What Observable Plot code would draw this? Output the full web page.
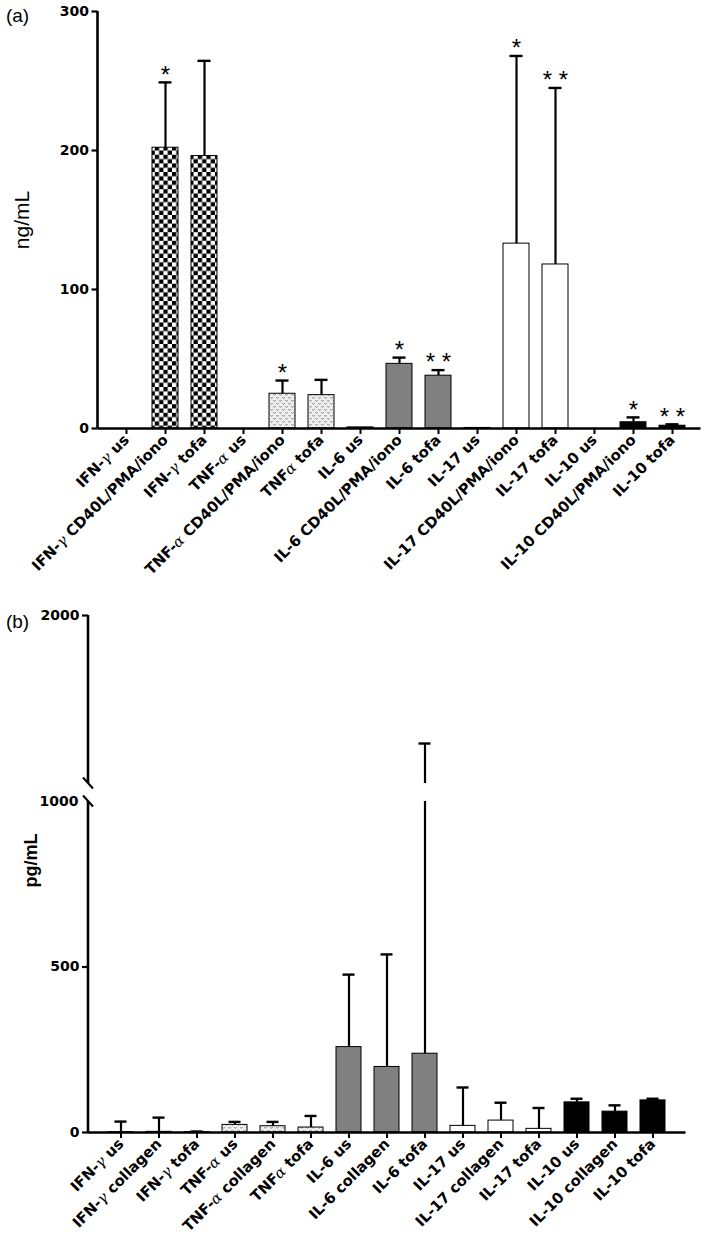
<!DOCTYPE html>
<html>
<head>
<meta charset="utf-8">
<script src="https://cdn.jsdelivr.net/npm/d3@7"></script>
<script src="https://cdn.jsdelivr.net/npm/@observablehq/plot@0.6"></script>
<style>
  body { margin: 0; background: #fff; }
  svg { display: block; overflow: visible; }
</style>
</head>
<body>
<svg width="0" height="0" style="position:absolute">
  <defs>
    <pattern id="checker" patternUnits="userSpaceOnUse" width="8.6" height="8.6">
      <rect width="8.6" height="8.6" fill="#fff"/>
      <rect width="4.3" height="4.3" fill="#000"/>
      <rect x="4.3" y="4.3" width="4.3" height="4.3" fill="#000"/>
    </pattern>
    <pattern id="wavy" patternUnits="userSpaceOnUse" width="6" height="6">
      <rect width="6" height="6" fill="#eeeeee"/>
      <path d="M0.4,1.2 Q1.5,3.6 2.6,1.2 M3.4,4.2 Q4.5,6.6 5.6,4.2" fill="none" stroke="#6e6e6e" stroke-width="0.9"/>
    </pattern>
  </defs>
</svg>
<div id="chart"></div>
<script>
// ---------- Panel (a) data ----------
const topLabels = ["IFN-γ us", "IFN-γ CD40L/PMA/iono", "IFN-γ tofa", "TNF-α us", "TNF-α CD40L/PMA/iono", "TNFα tofa",
  "IL-6 us", "IL-6 CD40L/PMA/iono", "IL-6 tofa", "IL-17 us", "IL-17 CD40L/PMA/iono", "IL-17 tofa",
  "IL-10 us", "IL-10 CD40L/PMA/iono", "IL-10 tofa"];
const topGroups = ["IFN", "IFN", "IFN", "TNF", "TNF", "TNF", "IL6", "IL6", "IL6", "IL17", "IL17", "IL17", "IL10", "IL10", "IL10"];
const topMeans = [0, 202, 196, 0, 25, 24, 0.8, 46.5, 38, 0.4, 133, 118, 0, 4.5, 2];
const topErrors = [0, 47, 68.5, 0, 9.5, 11, 0, 4.5, 4, 0, 135, 127, 0, 3.5, 1];
const topStars = ["", "*", "", "", "*", "", "", "*", "* *", "", "*", "* *", "", "*", "* *"];
const topTicks = [0, 100, 200, 300];

// ---------- Panel (b) data ----------
const bottomLabels = ["IFN-γ us", "IFN-γ collagen", "IFN-γ tofa", "TNF-α us", "TNF-α collagen", "TNFα tofa",
  "IL-6 us", "IL-6 collagen", "IL-6 tofa", "IL-17 us", "IL-17 collagen", "IL-17 tofa",
  "IL-10 us", "IL-10 collagen", "IL-10 tofa"];
const bottomGroups = ["IFN", "IFN", "IFN", "TNF", "TNF", "TNF", "IL6", "IL6", "IL6", "IL17", "IL17", "IL17", "IL10", "IL10", "IL10"];
const bottomMeans = [1, 2, 1, 23, 19, 15, 258, 198, 238, 20, 36, 11, 91, 63, 97];
const bottomErrors = [32, 43, 2, 9, 13, 35, 219, 340, 1000, 116, 54, 63, 11, 19, 5];
const bottomLowerDomain = [0, 1000];   // below the axis break
const bottomUpperDomain = [1000, 2000]; // above the axis break
const bottomLowerTicks = [0, 500];
const bottomBreakTicks = [1000];
const bottomUpperTicks = [2000];

// ---------- styling ----------
const groupOrder = ["IFN", "TNF", "IL6", "IL17", "IL10"];
const groupFill = {IFN: "url(#checker)", TNF: "url(#wavy)", IL6: "#808080", IL17: "#ffffff", IL10: "#000000"};
const boldFont = "DejaVu Sans";
const plainFont = "Liberation Sans";
const plotStyle = {fontFamily: boldFont, color: "#000", background: "#fff", overflow: "visible"};

const topRows = topLabels.map((label, i) => ({label, group: topGroups[i], mean: topMeans[i], err: topErrors[i], star: topStars[i]}));
const bottomRows = bottomLabels.map((label, i) => ({label, group: bottomGroups[i], mean: bottomMeans[i], err: bottomErrors[i]}));

function bars(rows) {
  return groupOrder.map(g => Plot.barY(rows.filter(d => d.group === g), {
    x: "label", y: "mean", fill: groupFill[g], stroke: "#000", strokeWidth: 1
  }));
}

// y-axis line and break marks drawn with the plot's own y scale
function axisLine(domain, breaks) {
  return (index, scales, values, dimensions) => {
    const y = scales.y;
    const x0 = dimensions.marginLeft;
    const g = d3.create("svg:g").attr("stroke", "#000").attr("fill", "none");
    g.append("line").attr("x1", x0).attr("x2", x0).attr("y1", y(domain[0])).attr("y2", y(domain[1])).attr("stroke-width", 2.6);
    for (const v of breaks) {
      g.append("line").attr("x1", x0 - 5).attr("x2", x0 + 5).attr("y1", y(v) - 5.5).attr("y2", y(v) + 5.5).attr("stroke-width", 2);
    }
    return g.node();
  };
}

const xAxisOpts = {label: null, tickRotate: -45, tickSize: 6, tickPadding: 3, strokeWidth: 2,
  fontSize: 14.8, fontWeight: "bold", fontFamily: boldFont};
const yAxisOpts = {label: null, tickSize: 6, tickPadding: 3, strokeWidth: 2.2,
  fontSize: 14, fontWeight: "bold", fontFamily: boldFont, tickFormat: d3.format("d")};

// ---------- panel (a) ----------
const topErr = topRows.filter(d => d.err > 0);
const topPlot = Plot.plot({
  width: 709, height: 590,
  marginTop: 11, marginBottom: 162, marginLeft: 97.5, marginRight: 8.5,
  style: plotStyle,
  x: {domain: topLabels, padding: 0.345, label: null},
  y: {domain: [0, 300], label: null},
  marks: [
    ...bars(topRows),
    Plot.ruleX(topErr, {x: "label", y1: "mean", y2: d => d.mean + d.err, strokeWidth: 2.2}),
    Plot.tickY(topErr, {x: "label", y: d => d.mean + d.err, strokeWidth: 2.4, insetLeft: 6.5, insetRight: 6.5}),
    Plot.text(topRows.filter(d => d.star), {x: "label", y: d => d.mean + d.err, text: "star", dy: -7.5,
      fontSize: 24, fontFamily: plainFont, lineAnchor: "middle"}),
    Plot.ruleY([0], {strokeWidth: 2.6}),
    axisLine([0, 300], []),
    Plot.axisY({...yAxisOpts, ticks: topTicks}),
    Plot.axisX(xAxisOpts),
    Plot.text(["(a)"], {frameAnchor: "top-left", dx: -80.5, dy: 4, fontSize: 19, fontFamily: plainFont,
      textAnchor: "middle", lineAnchor: "middle"}),
    Plot.text(["ng/mL"], {frameAnchor: "left", rotate: -90, dx: -75.5, fontSize: 21, fontFamily: plainFont,
      textAnchor: "middle", lineAnchor: "middle"})
  ]
});

// ---------- panel (b), upper segment (above the break) ----------
const brk = bottomLowerDomain[1];
const bottomErr = bottomRows.filter(d => d.err > 0);
const overBreak = bottomErr.filter(d => d.mean + d.err > brk);
const underBreak = bottomErr.filter(d => d.mean + d.err <= brk);

const bottomUpper = Plot.plot({
  width: 709, height: 200,
  marginTop: 25, marginBottom: 7, marginLeft: 88, marginRight: 23.5,
  style: plotStyle,
  x: {domain: bottomLabels, padding: 0.345, label: null, axis: null},
  y: {domain: bottomUpperDomain, label: null},
  marks: [
    Plot.ruleX(overBreak, {x: "label", y1: () => bottomUpperDomain[0], y2: d => d.mean + d.err, strokeWidth: 2.2}),
    Plot.tickY(overBreak, {x: "label", y: d => d.mean + d.err, strokeWidth: 2.4, insetLeft: 6.5, insetRight: 6.5}),
    axisLine(bottomUpperDomain, [bottomUpperDomain[0]]),
    Plot.axisY({...yAxisOpts, ticks: bottomUpperTicks}),
    Plot.text(["(b)"], {frameAnchor: "top-left", dx: -71, dy: 6, fontSize: 19, fontFamily: plainFont,
      textAnchor: "middle", lineAnchor: "middle"})
  ]
});

// ---------- panel (b), lower segment ----------
const bottomLower = Plot.plot({
  width: 709, height: 452,
  marginTop: 11, marginBottom: 110, marginLeft: 88, marginRight: 23.5,
  style: plotStyle,
  x: {domain: bottomLabels, padding: 0.345, label: null},
  y: {domain: bottomLowerDomain, label: null},
  marks: [
    ...bars(bottomRows),
    Plot.ruleX(bottomErr, {x: "label", y1: "mean", y2: d => Math.min(d.mean + d.err, brk), strokeWidth: 2.2}),
    Plot.tickY(underBreak, {x: "label", y: d => d.mean + d.err, strokeWidth: 2.4, insetLeft: 6.5, insetRight: 6.5}),
    Plot.ruleY([0], {strokeWidth: 2.6}),
    axisLine(bottomLowerDomain, [brk]),
    Plot.axisY({...yAxisOpts, ticks: bottomLowerTicks}),
    Plot.axisY({...yAxisOpts, ticks: bottomBreakTicks, tickSize: 0, tickPadding: 10}),
    Plot.axisX(xAxisOpts),
    Plot.text(["pg/mL"], {frameAnchor: "top-left", rotate: -90, dx: -57, dy: 59, fontSize: 18, fontWeight: "bold",
      fontFamily: plainFont, textAnchor: "middle", lineAnchor: "middle"})
  ]
});

// Greek letters set in light italic, as in the original labels
function italicGreek(svg) {
  const ns = "http://www.w3.org/2000/svg";
  svg.querySelectorAll("text").forEach(t => {
    if (t.querySelector("tspan")) return;
    const s = t.textContent;
    if (!/[αγ]/.test(s)) return;
    t.textContent = "";
    for (const part of s.split(/([αγ])/)) {
      if (!part) continue;
      const ts = document.createElementNS(ns, "tspan");
      ts.textContent = part;
      if (/[αγ]/.test(part)) {
        ts.setAttribute("font-style", "italic");
        ts.setAttribute("font-weight", "normal");
        ts.setAttribute("font-family", "DejaVu Serif");
      }
      t.appendChild(ts);
    }
  });
}
[topPlot, bottomUpper, bottomLower].forEach(italicGreek);

const chart = document.getElementById("chart");
chart.appendChild(topPlot);
chart.appendChild(bottomUpper);
chart.appendChild(bottomLower);
</script>
</body>
</html>
